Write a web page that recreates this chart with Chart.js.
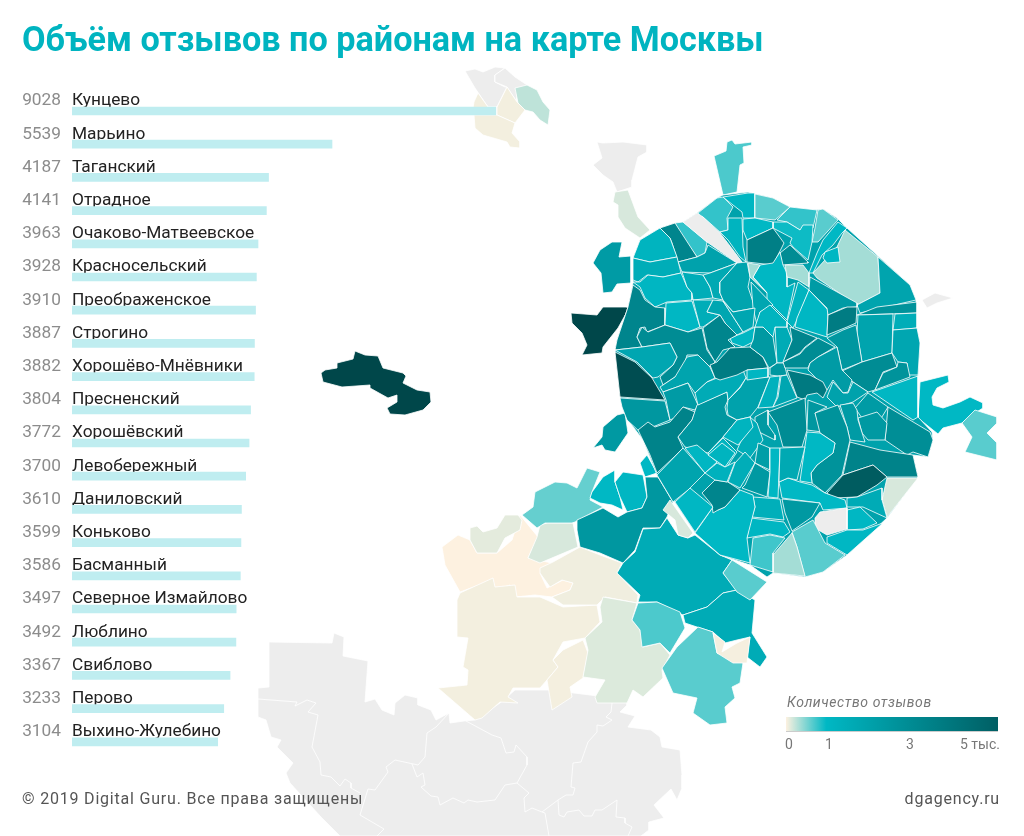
<!DOCTYPE html>
<html>
<head>
<meta charset="utf-8">
<script src="https://cdn.jsdelivr.net/npm/chart.js"></script>
<style>
  html, body { margin: 0; padding: 0; background: #fff; }
  body { width: 1024px; height: 836px; position: relative; overflow: hidden; font-family: Roboto, sans-serif; }
  canvas { position: absolute; }
  #title { position: absolute; left: 22px; top: 19px; font: bold 34.2px Roboto, sans-serif; color: #00b4c0; white-space: nowrap; }
  .foot { position: absolute; top: 789px; font-size: 16px; color: #555; letter-spacing: .8px; white-space: nowrap; }
  #legendTitle { position: absolute; left: 787px; top: 694px; font: italic 14px Roboto, sans-serif; color: #777; letter-spacing: .6px; }
  #legendBar { position: absolute; left: 786px; top: 717px; width: 212px; height: 14px; border-bottom: 1px solid #ccc; }
  .lt { position: absolute; top: 736px; font-size: 14px; color: #777; white-space: nowrap; }
</style>
</head>
<body>
<canvas id="mapChart" width="1024" height="836" style="left:0;top:0"></canvas>
<canvas id="barChart" width="572" height="694" style="left:0;top:70px"></canvas>
<div id="title">Объём отзывов по районам на карте Москвы</div>
<div class="foot" style="left:22px">© 2019 Digital Guru. Все права защищены</div>
<div class="foot" style="right:24px">dgagency.ru</div>
<div id="legendTitle">Количество отзывов</div>
<div id="legendBar"></div>
<div class="lt" style="left:785px">0</div>
<div class="lt" style="left:825px">1</div>
<div class="lt" style="left:906px">3</div>
<div class="lt" style="right:24px">5 тыс.</div>
<script>
// top 20 districts
var names = ['Кунцево','Марьино','Таганский','Отрадное','Очаково-Матвеевское','Красносельский','Преображенское','Строгино','Хорошёво-Мнёвники','Пресненский','Хорошёвский','Левобережный','Даниловский','Коньково','Басманный','Северное Измайлово','Люблино','Свиблово','Перово','Выхино-Жулебино'];
var reviews = [9028,5539,4187,4141,3963,3928,3910,3887,3882,3804,3772,3700,3610,3599,3586,3497,3492,3367,3233,3104];

// colour scale of the map and its legend
var scaleValues = [0,1000,3000,5000,9000];
var scaleColors = [[253,241,224],[0,184,196],[0,140,148],[0,95,100],[0,71,74]];

// white district lines inside the grey neighbours
var greyLines = [
  [258,699,297,702,295,706,307,700,316,703,308,712,318,715,312,747,320,762,321,775,331,777,340,786,345,779,351,783,351,788,360,793],
  [449,713,436,727,427,733,425,757,418,765,395,760,386,767,388,772,375,790,368,789,360,815,384,829,377,836],
  [466,721,492,735,501,738,506,753,514,752,516,745,527,757,527,765,517,783,505,785,495,800,477,802,468,800,464,803,453,798,440,805,438,797,431,796,421,787,425,785,423,773,417,777,412,764],
  [517,783,529,793,524,798,525,812,532,808,542,812,558,800,566,795,573,795,575,788,571,787,573,763,581,762,588,742,597,732,597,725,603,726,612,720,606,717,611,712,612,703],
  [542,812,545,813,549,836],
  [558,800,559,815,564,817,567,812,579,810,584,816,592,816,595,810,602,810,617,800,616,817,625,818,625,823,632,827,628,836]
];

// map regions in plot units; value of each below
var mapShapes = [
  [269,642,332,643,334,633,344,637,343,656,368,661,365,702,375,699,382,710,394,715,395,703,405,695,418,698,418,705,431,710,436,720,449,713,450,723,464,721,475,720,500,703,515,690,550,690,590,695,627,700,627,705,620,712,635,716,628,727,651,730,660,737,662,747,680,750,682,775,682,788,677,800,671,789,654,805,664,818,649,822,649,830,641,836,340,836,321,817,290,783,286,773,293,763,277,747,281,740,271,737,266,720,258,717,258,688,269,687],
  [465,71,475,69,483,72,495,67,505,68,495,75,495,82,505,87,507,87,497,107,488,107,475,88],
  [505,68,515,77,527,85,527,90,517,90,517,102,507,87,495,82,495,75],
  [515,88,527,85,537,90,543,102,550,110,548,125,540,120,533,112,525,110,518,103],
  [474,102,478,93,488,107,497,107,497,115,475,115,473,108],
  [497,107,507,87,517,102,525,110,515,123,497,115],
  [474,115,497,115,515,123,512,133,520,142,520,148,510,147,507,142,483,135,475,128],
  [321,373,325,370,337,368,337,363,353,359,355,351,365,355,378,356,383,368,403,373,406,376,403,383,417,390,430,392,431,402,423,410,405,415,390,414,387,408,397,402,397,395,388,398,370,388,370,385,342,387,323,382],
  [597,142,603,143,623,142,647,145,647,152,638,157,632,180,632,187,617,192,613,182,603,175,593,165,602,158],
  [615,192,628,190,638,217,650,230,640,238,625,228,618,217,618,205,613,202],
  [922,300,935,293,953,298,937,303,927,308],
  [571,313,597,315,603,307,627,307,628,310,618,328,603,347,602,353,582,355,587,345,582,333,572,323],
  [600,250,612,242,622,242,619,257,631,256,631,283,617,284,612,292,603,293,601,273,593,263],
  [593,448,602,437,603,427,617,415,625,413,628,433,615,452,605,450,602,445],
  [920,382,948,375,949,382,937,388,932,397,933,405,943,408,960,402,970,397,983,403,983,408,972,415,962,423,943,428,938,434,918,418],
  [962,423,975,410,997,417,997,423,987,433,997,443,997,460,965,452,972,437],
  [714,156,726,151,727,142,732,140,735,144,752,142,752,145,743,147,744,163,740,165,737,192,723,195],
  // south-west, new Moscow
  [442,547,458,535,470,540,477,553,497,553,512,540,520,515,538,537,528,558,552,563,540,573,547,588,563,580,573,583,570,590,552,597,535,595,515,597,510,585,495,590,493,580,460,592,445,565],
  [470,528,477,526,483,532,497,528,505,515,518,515,522,520,520,530,505,538,497,553,477,553,470,540],
  [540,525,547,523,573,523,578,547,540,563,528,558,537,537],
  [460,593,493,578,495,587,515,585,517,597,540,597,563,607,597,605,600,622,585,638,563,642,553,660,558,667,547,680,540,688,513,688,508,697,518,703,500,702,482,718,475,720,438,688,467,685,468,670,463,667,468,638,457,637,457,600],
  [553,660,563,650,583,640,588,653,583,678,570,687,572,697,552,710,547,680,558,667],
  [540,568,553,562,580,547,600,555,622,563,617,573,638,595,637,603,605,597,597,605,563,605,552,597,570,590,573,583,562,580,550,587,540,573],
  [603,597,637,603,632,620,640,630,643,647,660,643,670,655,662,670,663,678,643,697,633,690,627,703,597,703,595,697,605,680,583,677,588,650,585,638,602,622,600,607],
  [522,515,533,507,535,492,555,482,567,483,577,488,587,468,600,472,592,492,590,500,603,507,575,522,572,523,545,523,537,528],
  [592,492,603,477,615,470,615,482,620,497,623,510,612,505,600,503,590,498],
  [615,482,623,472,643,475,647,497,642,508,627,512,620,497],
  [640,463,647,455,657,473,645,477],
  [645,477,658,477,673,502,667,517,660,528,643,528,635,550,623,563,600,553,580,547,577,530,577,520,603,508,618,517,627,512,642,508,647,497],
  [667,518,678,535,688,538,695,535,720,555,732,560,723,573,737,590,723,593,707,607,683,615,657,602,638,602,640,595,617,573,623,563,635,552,643,529,660,528],
  [638,603,657,602,680,612,685,628,670,653,660,643,642,647,640,630,632,620],
  [683,615,707,607,723,593,737,590,755,600,752,633,767,657,760,667,747,657,750,637,737,640,725,643,713,632,697,627,685,623],
  [698,627,713,632,717,653,743,663,740,683,732,687,735,698,725,707,727,723,710,725,693,713,697,698,673,693,662,668,677,647],
  [713,633,725,642,722,652,737,643,750,637,747,663,733,663,717,653],
  [732,560,767,582,750,600,737,592,723,573],
  // old Moscow, base outline first
  [660,228,675,223,683,222,697,213,717,198,723,195,748,192,773,198,790,207,813,210,823,209,837,218,847,228,878,256,910,285,916,300,917,330,920,343,918,377,918,417,932,432,933,440,928,457,913,455,918,477,887,518,847,555,823,572,805,577,773,573,767,577,750,565,720,555,695,533,657,475,643,440,628,420,620,397,615,350,617,340,628,307,633,283,633,258,640,240],
  // north
  [698,213,717,198,723,197,733,207,727,218,728,230,720,232,703,217,700,217],
  [675,223,683,222,707,242,705,253,697,257,680,233],
  [683,222,697,213,703,217,720,233,733,250,742,262,737,263,707,242],
  [660,228,675,223,697,257,678,262,672,243,670,238],
  [660,228,670,238,677,257,650,262,633,258,640,240],
  [705,253,708,245,737,263,710,273,682,272,678,262,697,257],
  [633,258,650,262,677,257,681,273,663,277,647,275,638,282,633,280],
  [633,282,640,282,648,275,663,277,681,273,687,287,692,293,692,300,667,302,655,307,645,298,640,287],
  [682,272,703,275,710,287,713,298,693,300,692,293,687,287],
  [710,273,737,263,720,282,720,293,723,300,713,298,710,287,703,275],
  [737,263,747,262,750,277,748,287,755,308,733,312,723,300,720,293,720,282],
  [723,197,748,193,755,193,755,218,743,218,742,212,733,205],
  [755,194,773,198,790,207,775,220,755,218],
  [790,207,817,210,813,228,800,230,787,222,777,220],
  [818,210,823,209,838,220,818,242,812,242,815,228],
  [773,222,787,222,800,230,803,225,813,225,812,242,808,260,793,247,790,243,792,238,773,228],
  [743,219,755,218,773,222,773,228,747,240,743,230],
  [728,218,742,218,743,247,746,262,740,257,728,240,720,232,728,230],
  [747,240,773,228,784,243,773,265,747,262],
  [790,245,808,262,808,263,782,265,780,253],
  [838,222,847,228,842,233,833,245,822,255,813,273,809,273,817,253,823,240],
  [813,273,837,247,845,230,878,257,880,293,857,305,817,278],
  [825,252,838,247,840,262,827,263,823,258],
  [878,257,910,285,916,300,860,313,857,305,880,293],
  [857,315,877,307,917,302,917,313],
  [760,265,773,263,780,252,783,265,787,273,787,287,795,283,787,320,767,300,767,293,753,277],
  [748,263,760,265,753,277,767,293,750,277],
  [785,265,803,265,809,273,809,287,798,280,787,277],
  [751,282,773,305,760,312,757,325,753,308],
  [798,282,809,290,797,320,793,328,787,322],
  [809,290,828,310,827,337,795,327,797,318],
  [810,277,857,303,857,307,843,308,828,315,827,308,809,290],
  [828,315,847,307,857,307,856,323,847,327,827,335],
  // east
  [858,315,893,314,892,353,862,362,857,333],
  [895,314,917,313,917,328,907,329,893,330],
  [893,330,917,328,920,343,918,375,908,375,907,363,898,362,892,353],
  [827,338,843,330,856,325,862,362,842,370,837,347],
  [842,371,862,362,892,353,897,367,883,372,875,390,868,392,853,382],
  [875,390,883,373,897,367,898,362,907,363,910,377],
  [872,392,918,376,918,417,913,420],
  // west and centre
  [633,285,640,290,645,300,655,307,665,308,665,325,647,332,645,327,640,328,637,337,642,347,615,350,617,340,628,307],
  [666,303,692,301,700,327,688,332,665,325],
  [693,300,713,300,707,312,720,315,703,327,700,327],
  [713,300,723,301,743,332,733,337,725,323,720,315,707,312],
  [723,301,733,312,755,308,753,327,743,332],
  [755,327,753,342,743,347,732,343,730,338,743,333],
  [703,328,720,315,725,323,737,335,728,340,735,347,723,350,715,362,707,348],
  [637,337,642,327,648,332,665,325,688,332,702,328,707,350,715,362,710,367,698,355,687,355,683,370,675,377,663,385,660,377,673,365,677,357,670,343,642,347],
  [615,350,642,347,670,343,677,357,673,365,658,377,653,378,637,362],
  [615,352,635,362,652,378,665,400,620,397,617,370],
  [620,398,665,401,670,420,640,432,627,420,622,407],
  [660,387,675,377,687,357,698,355,710,367,715,378,707,382,695,393,688,383,663,392],
  [663,392,688,383,698,405,695,410,683,407,677,417,670,420,666,400],
  [638,430,648,422,655,427,670,422,683,407,695,412,692,420,678,437,683,448,673,458,657,473,650,455],
  [678,437,692,420,697,405,727,392,728,400,725,407,727,415,737,420,723,437,708,453,685,447],
  [695,393,707,382,717,378,727,375,743,370,746,378,740,387,728,400,727,392,698,405],
  [727,408,728,400,740,388,746,378,770,377,758,407,750,417,737,420,728,415],
  [710,365,717,362,730,348,750,347,763,357,768,368,747,370,737,375,720,380,715,378],
  [747,370,768,368,768,377,747,380],
  [755,327,763,327,773,337,777,363,769,368,763,357,750,347,753,340],
  [775,327,787,327,792,340,783,363,777,363],
  [777,363,784,363,787,375,778,376,770,375,770,368],
  [760,312,770,305,787,322,787,327,775,327,773,337,763,327,755,327],
  [790,327,817,338,805,347,800,353,783,362,792,340],
  [783,362,800,354,805,348,818,338,835,347,818,357,810,363,808,368,785,368],
  [810,363,818,357,837,347,842,370,852,380,848,392,843,393,833,380,827,390,813,375,808,370],
  [833,382,843,393,848,393,853,382,868,392,853,402,837,407,827,397],
  [787,370,810,375,823,382,827,390,823,398,817,393,807,395,805,400,797,397],
  // south of centre
  [770,377,780,376,777,397,773,407,758,408],
  [781,376,787,375,797,398,773,407,778,397],
  [768,412,805,398,807,430,802,447,783,447,777,425],
  [755,417,768,410,768,425,775,435,775,440,755,430],
  [750,417,757,423,763,440,750,458,737,450,745,432],
  [737,420,750,417,753,427,738,445,723,437],
  [708,453,723,438,737,452,727,467,717,470],
  [808,400,827,407,815,413,822,432,807,430],
  [855,408,868,393,888,407,877,425,862,418],
  [888,407,930,432,933,440,928,457,913,452,907,455,885,440],
  [858,418,877,412,887,423,885,440,868,440,862,433],
  [840,405,853,403,857,410,858,420,865,442,850,440,847,427],
  [815,413,838,405,847,427,850,440,842,475,825,493,812,483,811,473,817,465,833,453,835,443,820,433,818,425],
  [807,432,820,433,835,443,833,453,817,465,811,473,812,483,800,481,803,460],
  [850,442,880,450,913,455,918,477,887,477,873,465,843,475],
  [827,493,843,475,873,465,887,477,877,485,857,497,833,498],
  [887,478,918,478,887,517,882,500],
  [779,482,788,478,800,482,812,485,825,493,845,500,847,508,823,510,820,503,782,498],
  [847,498,857,497,882,488,882,500,887,518,863,507,847,507],
  [847,510,860,507,877,523,863,529,847,530],
  [820,512,847,508,847,529,827,535,815,528,815,518],
  [827,537,847,530,863,530,883,523,847,555,827,543],
  [792,532,813,520,825,543,845,555,823,572,805,577,797,547],
  [792,533,797,547,805,576,773,573,773,555],
  [782,499,820,503,812,517,792,531,785,513],
  [753,497,780,499,784,520,752,517,755,507],
  [751,518,784,522,790,532,783,537,770,534,747,538],
  [753,538,770,535,785,538,773,553,773,572,750,565],
  [695,533,713,507,718,510,725,507,740,490,753,495,755,507,747,538,750,563,720,555],
  [702,493,715,480,728,482,740,490,725,507,718,510,713,513,712,505],
  [675,502,690,488,713,507,695,532],
  [657,475,683,448,705,473,688,490,673,502],
  [685,448,697,445,717,462,705,473],
  [708,455,722,443,735,453,725,467],
  [717,463,725,467,735,462,727,482,715,480,705,473],
  [735,463,745,452,755,463,740,488,728,482],
  [758,443,770,448,770,470,755,463],
  [745,485,755,463,770,472,767,497,742,488],
  [770,448,780,448,778,498,768,497,770,472],
  [780,448,805,447,797,480,788,478,779,482],
  [670,500,693,533,688,538,678,535,675,520,663,510]
];
// reviews per region, same order as mapShapes (null = no data, grey)
var mapValues = [
  null,null,null,250,40,40,40,9028,null,150,null,9028,2300,2400,1000,650,700,
  0,100,150,40,35,50,130,600,1000,1100,1000,2500,1600,700,1600,650,30,650,
  2000,
  800,800,null,3300,1200,2000,1500,1100,1500,1700,1900,1100,650,800,650,950,1000,1200,3600,3000,1000,350,1050,1900,2700,1050,350,350,1800,1200,1050,2300,3700,
  1900,1500,1800,2500,3000,2700,1050,
  3300,1050,1500,1800,1800,1100,3300,3000,1800,8000,2500,1900,2300,3400,2500,1600,2000,3700,1100,2400,1600,2500,1200,3300,3000,2300,2000,3800,
  1300,1800,3000,2400,1500,1200,1200,2500,2300,2900,2400,2300,2700,1000,3400,5539,150,1000,1600,1050,null,1050,650,350,2400,1400,1100,750,1000,3300,1050,1900,1100,1200,1300,1500,2200,2400,1050,1700,150
];

function valueColor(v) {
  if (v === null) return '#ededed';
  for (var i = 1; i < scaleValues.length; i++) {
    if (v <= scaleValues[i]) {
      var t = (v - scaleValues[i - 1]) / (scaleValues[i] - scaleValues[i - 1]);
      var a = scaleColors[i - 1], b = scaleColors[i];
      return 'rgb(' + [0, 1, 2].map(function (k) { return Math.round(a[k] + (b[k] - a[k]) * t); }).join(',') + ')';
    }
  }
  return 'rgb(' + scaleColors[scaleColors.length - 1].join(',') + ')';
}

function toPoints(flat, close) {
  var pts = [];
  for (var i = 0; i < flat.length; i += 2) pts.push({ x: flat[i], y: flat[i + 1] });
  if (close) pts.push(pts[0]);
  return pts;
}

// chart.js draws the first dataset on top: districts first, then grey lines, grey base last
var shapeSets = mapShapes.map(function (s, i) {
  return { data: toPoints(s, true), showLine: true, fill: 'shape', backgroundColor: valueColor(mapValues[i]), borderColor: '#fff', borderWidth: 0.8, pointRadius: 0, tension: 0 };
}).reverse();
var greyBase = shapeSets.pop();
var lineSets = greyLines.map(function (l) {
  return { data: toPoints(l, false), showLine: true, fill: false, borderColor: '#fff', borderWidth: 0.8, pointRadius: 0, tension: 0 };
});

new Chart(document.getElementById('mapChart'), {
  type: 'scatter',
  data: { datasets: shapeSets.concat(lineSets, [greyBase]) },
  options: {
    responsive: false,
    animation: false,
    layout: { padding: 0 },
    plugins: { legend: { display: false }, tooltip: { enabled: false } },
    scales: {
      x: { type: 'linear', min: 0, max: 1024, display: false },
      y: { type: 'linear', min: 0, max: 836, reverse: true, display: false }
    }
  }
});

var valueLabels = {
  id: 'valueLabels',
  afterDatasetsDraw: function (chart) {
    var ctx = chart.ctx, y = chart.scales.y;
    ctx.save();
    ctx.font = '17.3px Roboto, sans-serif';
    ctx.fillStyle = '#8c8c8c';
    ctx.textAlign = 'right';
    ctx.textBaseline = 'middle';
    reviews.forEach(function (v, i) {
      ctx.fillText(String(v), 61, y.getPixelForValue(i) - 10);
    });
    ctx.restore();
  }
};

new Chart(document.getElementById('barChart'), {
  type: 'bar',
  data: {
    labels: names,
    datasets: [{ data: reviews, backgroundColor: '#bfedf0', barThickness: 8 }]
  },
  options: {
    indexAxis: 'y',
    responsive: false,
    animation: false,
    layout: { padding: { left: 72, top: 24.4, bottom: 5.6, right: 0 } },
    plugins: { legend: { display: false }, tooltip: { enabled: false } },
    scales: {
      x: { type: 'linear', min: 0, max: 10652, display: false },
      y: {
        type: 'category',
        afterFit: function (s) { s.width = 0; s.paddingTop = 0; s.paddingBottom = 0; },
        grid: { display: false },
        border: { display: false },
        ticks: { mirror: true, padding: 0, labelOffset: -10, autoSkip: false, color: '#222', font: { family: 'Roboto', size: 17.3 } }
      }
    }
  },
  plugins: [valueLabels]
});

var stopsCss = scaleValues.slice(0, 4).map(function (v, i) {
  var pos = [0, 19, 58, 100][i];
  return valueColor(v) + ' ' + pos + '%';
}).join(',');
document.getElementById('legendBar').style.background = 'linear-gradient(to right,' + stopsCss + ')';
</script>
</body>
</html>
